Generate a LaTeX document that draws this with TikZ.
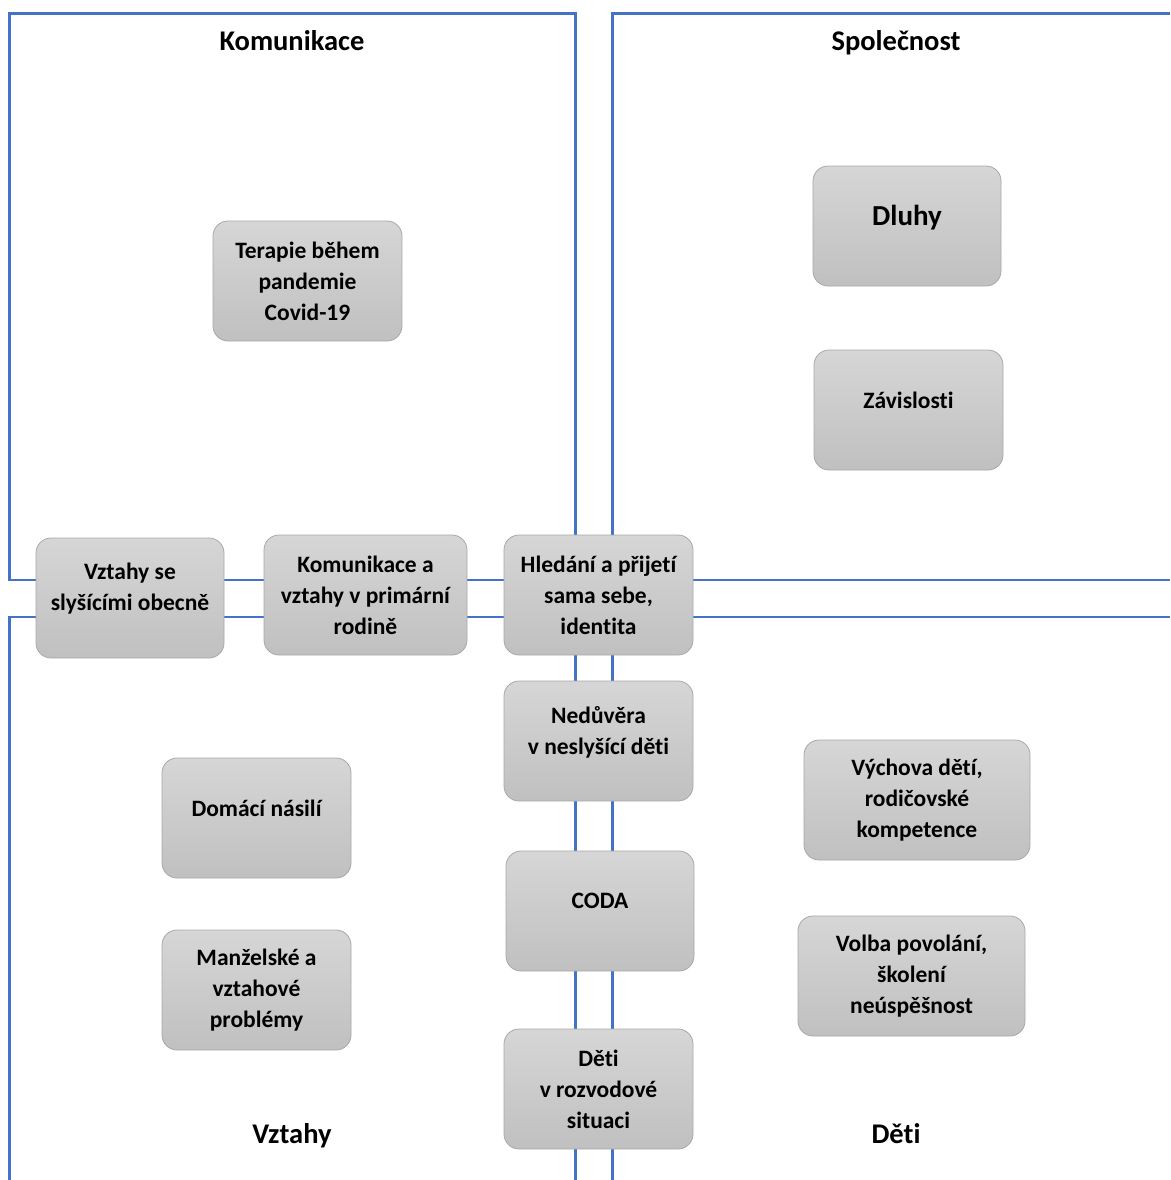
\documentclass[tikz,border=0pt]{standalone}
\usepackage{fontspec}
\setmainfont{Carlito}[Ligatures={NoCommon,TeX}]
\definecolor{frameblue}{HTML}{4472C4}
\definecolor{boxtop}{HTML}{D6D6D6}
\definecolor{boxbot}{HTML}{C0C0C0}
\definecolor{boxline}{HTML}{A8A8A8}
\tikzset{
  frame/.style={draw=frameblue, line width=2.6pt},
  gbox/.style={draw=boxline, line width=0.8pt, rounded corners=15pt, top color=boxtop, bottom color=boxbot, inner sep=0pt},
  txt/.style={font=\bfseries\fontsize{23.5}{31}\selectfont, align=center, text=black, inner sep=0pt},
  ttl/.style={font=\bfseries\fontsize{28.5}{30}\selectfont, text=black, inner sep=0pt, anchor=base},
}
\begin{document}
\begin{tikzpicture}[x=1pt,y=-1pt]
\useasboundingbox (0,0) rectangle (1170,1180);
% frames
\coordinate (tl1) at (9.5,13.5);
\coordinate (tl2) at (575.5,580);
\draw[frame] (tl1) rectangle (tl2);
\coordinate (trA) at (1170,13.5);
\coordinate (trB) at (612.5,13.5);
\coordinate (trC) at (612.5,580);
\coordinate (trD) at (1170,580);
\draw[frame] (trA) -- (trB) -- (trC) -- (trD);
\coordinate (blA) at (9.5,1180);
\coordinate (blB) at (9.5,617);
\coordinate (blC) at (575.5,617);
\coordinate (blD) at (575.5,1180);
\draw[frame] (blA) -- (blB) -- (blC) -- (blD);
\coordinate (brA) at (1170,617);
\coordinate (brB) at (612.5,617);
\coordinate (brC) at (612.5,1180);
\draw[frame] (brA) -- (brB) -- (brC);
% titles
\node[ttl] (tKom) at (292,51) {Komunikace};
\node[ttl] (tSpo) at (896,51) {Společnost};
\node[ttl] (tVzt) at (292,1143) {Vztahy};
\node[ttl] (tDet) at (896,1143) {Děti};
% boxes
\node[gbox, minimum width=189pt, minimum height=120pt] (terapie) at (307.5,281) {};
\node[txt] (terapieT) at (terapie.center) {Terapie během\\pandemie\\Covid-19};
\node[gbox, minimum width=188pt, minimum height=120pt] (dluhy) at (907,226) {};
\node[txt, font=\bfseries\fontsize{29}{31}\selectfont] (dluhyT) at ([yshift=8pt]dluhy.center) {Dluhy};
\node[gbox, minimum width=189pt, minimum height=120pt] (zavis) at (908.5,410) {};
\node[txt] (zavisT) at ([yshift=10pt]zavis.center) {Závislosti};
\node[gbox, minimum width=188pt, minimum height=120pt] (vztahy) at (130,598) {};
\node[txt] (vztahyT) at ([yshift=9pt]vztahy.center) {Vztahy se\\slyšícími obecně};
\node[gbox, minimum width=203pt, minimum height=120pt] (komun) at (365.5,595) {};
\node[txt] (komunT) at (komun.center) {Komunikace a\\vztahy v primární\\rodině};
\node[gbox, minimum width=189pt, minimum height=120pt] (hledani) at (598.5,595) {};
\node[txt] (hledaniT) at (hledani.center) {Hledání a přijetí\\sama sebe,\\identita};
\node[gbox, minimum width=189pt, minimum height=120pt] (neduvera) at (598.5,741) {};
\node[txt] (neduveraT) at ([yshift=9pt]neduvera.center) {Nedůvěra\\v neslyšící děti};
\node[gbox, minimum width=188pt, minimum height=120pt] (coda) at (600,911) {};
\node[txt] (codaT) at ([yshift=10pt]coda.center) {CODA};
\node[gbox, minimum width=189pt, minimum height=120pt] (rozvod) at (598.5,1089) {};
\node[txt] (rozvodT) at (rozvod.center) {Děti\\v rozvodové\\situaci};
\node[gbox, minimum width=189pt, minimum height=120pt] (nasili) at (256.5,818) {};
\node[txt] (nasiliT) at ([yshift=10pt]nasili.center) {Domácí násilí};
\node[gbox, minimum width=189pt, minimum height=120pt] (manzel) at (256.5,990) {};
\node[txt] (manzelT) at (manzel.center) {Manželské a\\vztahové\\problémy};
\node[gbox, minimum width=226pt, minimum height=120pt] (vychova) at (917,800) {};
\node[txt] (vychovaT) at (vychova.center) {Výchova dětí,\\rodičovské\\kompetence};
\node[gbox, minimum width=227pt, minimum height=120pt] (volba) at (911.5,976) {};
\node[txt] (volbaT) at (volba.center) {Volba povolání,\\školení\\neúspěšnost};
\end{tikzpicture}
\end{document}
